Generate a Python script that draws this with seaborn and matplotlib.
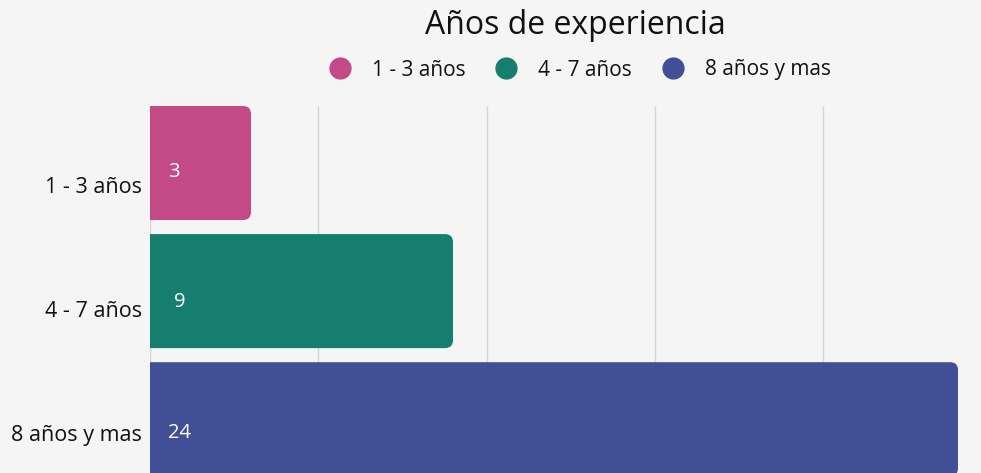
import matplotlib
matplotlib.use("Agg")
import matplotlib.pyplot as plt
import seaborn as sns
import pandas as pd
from matplotlib.patches import FancyBboxPatch
from matplotlib.lines import Line2D
import matplotlib.transforms as mtransforms

categories = ["1 - 3 años", "4 - 7 años", "8 años y mas"]
values = [3, 9, 24]
colors = ["#C44A87", "#167E6E", "#415096"]
title = "Años de experiencia"

sns.set_theme(style="white")
plt.rcParams["font.family"] = ["Open Sans", "DejaVu Sans"]

W, H = 981, 473
fig = plt.figure(figsize=(W / 100, H / 100), dpi=100)
fig.patch.set_facecolor("#F5F5F5")

ax = fig.add_axes([150 / W, 0, (958 - 150) / W, (473 - 106) / H])
ax.set_facecolor("#F5F5F5")

df = pd.DataFrame({"cat": categories, "val": values})
sns.barplot(data=df, x="val", y="cat", hue="cat", palette=colors, legend=False,
            width=0.89, orient="h", ax=ax, saturation=1)

ax.set_xlim(0, 24)
ax.set_ylim(2.42, -0.445)

# rounded right corners
xpx = (958 - 150) / 24.0
ypx = 128.0
r_px = 8
r = r_px / xpx
aspect = (r_px / ypx) / r
for p in list(ax.patches):
    x, y, w, h = p.get_x(), p.get_y(), p.get_width(), p.get_height()
    fc = p.get_facecolor()
    p.remove()
    fb = FancyBboxPatch((x - 1.0, y), w + 1.0, h,
                        boxstyle=f"round,pad=0,rounding_size={r}",
                        mutation_aspect=aspect, facecolor=fc, edgecolor="none",
                        zorder=2)
    ax.add_patch(fb)

ax.set_xticks([0, 5, 10, 15, 20])
ax.set_xticklabels([])
ax.grid(axis="x", color="#D4D4D4", linewidth=1)
ax.grid(axis="y", visible=False)
ax.set_axisbelow(True)
for s in ax.spines.values():
    s.set_visible(False)
ax.tick_params(length=0)
ax.set_xlabel("")
ax.set_ylabel("")

# y tick labels, shifted slightly down as in the reference
tick_offsets = [22, 18, 14]
ax.set_yticks(range(len(categories)))
ax.set_yticklabels(categories, fontsize=15.5, color="#111111")
ax.tick_params(axis="y", pad=6)
for lab, off in zip(ax.get_yticklabels(), tick_offsets):
    lab.set_transform(lab.get_transform() +
                      mtransforms.ScaledTranslation(0, -off / 100, fig.dpi_scale_trans))

# value labels
val_offsets = [9, 11, 14]
val_x = [18, 24, 18]
for i, (v, off, dx) in enumerate(zip(values, val_offsets, val_x)):
    tr = ax.transData + mtransforms.ScaledTranslation(dx / 100, -off / 100, fig.dpi_scale_trans)
    ax.text(0, i, str(v), transform=tr, color="white", fontsize=14.5,
            ha="left", va="center", zorder=3)

fig.text(575 / W, 1 - 25 / H, title, ha="center", va="center", fontsize=23, color="#111111")

handles = [Line2D([0], [0], marker="o", linestyle="none", markersize=15,
                  markerfacecolor=c, markeredgecolor=c) for c in colors]
fig.legend(handles, categories, loc="center", bbox_to_anchor=(575 / W, 1 - 70 / H),
           ncol=3, frameon=False, fontsize=15, handletextpad=0.55, columnspacing=0.95,
           labelcolor="#111111")

fig.savefig("out.png", dpi=100, facecolor=fig.get_facecolor())
